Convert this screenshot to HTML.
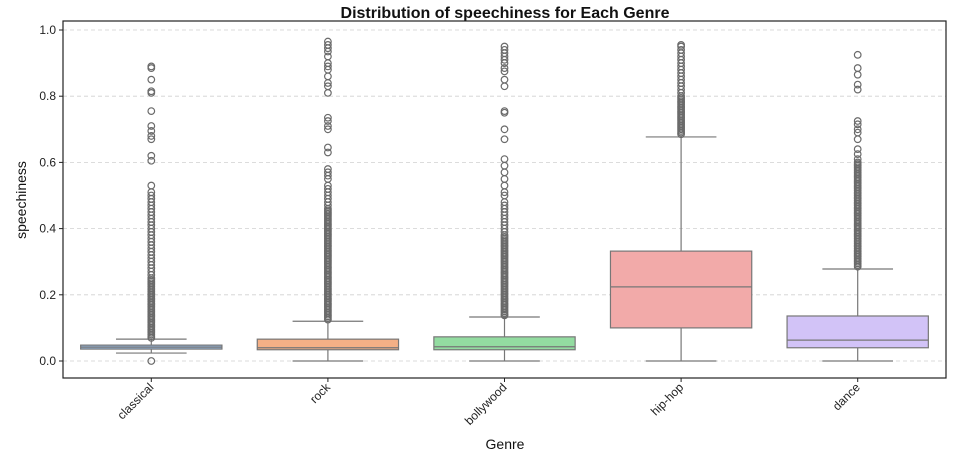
<!DOCTYPE html>
<html><head><meta charset="utf-8"><style>
body{margin:0;background:#fff;font-family:"Liberation Sans",sans-serif}
</style></head><body>
<svg id="chart" width="959" height="459" xmlns="http://www.w3.org/2000/svg">
<text x="505" y="18" text-anchor="middle" font-size="16" font-weight="bold" fill="#111">Distribution of speechiness for Each Genre</text>
<text transform="translate(26,200) rotate(-90)" text-anchor="middle" font-size="14" fill="#111">speechiness</text>
<text x="505" y="449" text-anchor="middle" font-size="14" fill="#111">Genre</text>
<g id="grid"></g><g id="marks"></g><g id="axes"></g>
</svg>
<script>
const categories=["classical","rock","bollywood","hip-hop","dance"];
const q1=[0.036,0.034,0.034,0.100,0.040];
const medians=[0.042,0.040,0.043,0.224,0.063];
const q3=[0.048,0.066,0.073,0.332,0.136];
const whiskLo=[0.024,0.0,0.0,0.0,0.0];
const whiskHi=[0.066,0.120,0.133,0.677,0.278];
const outClassical=[0,0.07,0.075,0.08,0.085,0.09,0.095,0.10,0.105,0.11,0.115,0.12,0.125,0.13,0.135,0.14,0.145,0.15,0.155,0.16,0.165,0.17,0.175,0.18,0.185,0.19,0.195,0.20,0.205,0.21,0.215,0.22,0.225,0.23,0.235,0.24,0.245,0.25,0.26,0.27,0.28,0.29,0.30,0.31,0.32,0.33,0.34,0.35,0.36,0.37,0.38,0.39,0.40,0.41,0.42,0.43,0.44,0.45,0.46,0.47,0.48,0.49,0.50,0.51,0.53,0.605,0.62,0.67,0.68,0.695,0.71,0.755,0.81,0.815,0.85,0.885,0.89];
const outRock=[0.125,0.13,0.135,0.14,0.145,0.15,0.155,0.16,0.165,0.17,0.175,0.18,0.185,0.19,0.195,0.20,0.205,0.21,0.215,0.22,0.225,0.23,0.235,0.24,0.245,0.25,0.255,0.26,0.265,0.27,0.275,0.28,0.285,0.29,0.295,0.30,0.305,0.31,0.315,0.32,0.325,0.33,0.335,0.34,0.345,0.35,0.355,0.36,0.365,0.37,0.375,0.38,0.385,0.39,0.395,0.40,0.405,0.41,0.415,0.42,0.425,0.43,0.435,0.44,0.445,0.45,0.455,0.46,0.47,0.48,0.49,0.50,0.51,0.52,0.53,0.55,0.56,0.57,0.58,0.63,0.645,0.70,0.71,0.725,0.735,0.81,0.83,0.84,0.86,0.88,0.89,0.90,0.92,0.935,0.945,0.955,0.965];
const outBollywood=[0.138,0.14,0.145,0.15,0.155,0.16,0.165,0.17,0.175,0.18,0.185,0.19,0.195,0.20,0.205,0.21,0.215,0.22,0.225,0.23,0.235,0.24,0.245,0.25,0.255,0.26,0.265,0.27,0.275,0.28,0.285,0.29,0.295,0.30,0.305,0.31,0.315,0.32,0.325,0.33,0.335,0.34,0.345,0.35,0.355,0.36,0.365,0.37,0.375,0.38,0.39,0.40,0.41,0.42,0.43,0.44,0.45,0.46,0.47,0.48,0.50,0.51,0.53,0.55,0.57,0.59,0.61,0.67,0.70,0.75,0.755,0.83,0.85,0.875,0.885,0.90,0.91,0.92,0.93,0.94,0.95];
const outHiphop=[0.685,0.69,0.695,0.70,0.705,0.71,0.715,0.72,0.725,0.73,0.735,0.74,0.745,0.75,0.755,0.76,0.765,0.77,0.775,0.78,0.785,0.79,0.795,0.80,0.81,0.82,0.83,0.84,0.85,0.86,0.87,0.88,0.89,0.90,0.91,0.92,0.93,0.94,0.95,0.955];
const outDance=[0.285,0.29,0.295,0.30,0.305,0.31,0.315,0.32,0.325,0.33,0.335,0.34,0.345,0.35,0.355,0.36,0.365,0.37,0.375,0.38,0.385,0.39,0.395,0.40,0.405,0.41,0.415,0.42,0.425,0.43,0.435,0.44,0.445,0.45,0.455,0.46,0.465,0.47,0.475,0.48,0.485,0.49,0.495,0.50,0.505,0.51,0.515,0.52,0.525,0.53,0.535,0.54,0.545,0.55,0.555,0.56,0.565,0.57,0.575,0.58,0.585,0.59,0.595,0.60,0.61,0.625,0.64,0.67,0.69,0.70,0.715,0.725,0.82,0.835,0.865,0.885,0.925];
const outliers=[outClassical,outRock,outBollywood,outHiphop,outDance];
const yTicks=[0,0.2,0.4,0.6,0.8,1.0];
const yTickLabels=["0.0","0.2","0.4","0.6","0.8","1.0"];
const colors=["#93b5dc","#f4b086","#93dca1","#f2aaa9","#d2c3f7"];

const L=63,R=946,T=21,B=378;
const y=v=>361-v*331;
const band=(R-L)/categories.length;
const x=i=>L+band*(i+0.5);
const NS="http://www.w3.org/2000/svg";
function mk(parent,tag,attrs){const e=document.createElementNS(NS,tag);for(const k in attrs)e.setAttribute(k,attrs[k]);document.getElementById(parent).appendChild(e);return e;}

yTicks.forEach((t,i)=>{
  const g=mk("grid","line",{x1:L,x2:R,y1:y(t),y2:y(t),stroke:"#d0d0d0","stroke-dasharray":"4,3","stroke-width":0.8});
  
  
  const tk=mk("axes","line",{x1:L-4,x2:L,y1:y(t),y2:y(t),stroke:"#222"});
  
  
  const tl=mk("axes","text",{x:L-7,y:y(t)+4,"text-anchor":"end","font-size":12,fill:"#222"});
  tl.textContent=yTickLabels[i];
  
  
});
const frame=mk("axes","rect",{x:L,y:T,width:R-L,height:B-T,fill:"none",stroke:"#222","stroke-width":1.2});



categories.forEach((c,i)=>{
  const cx=x(i),w=band*0.8,cw=w/2;
  const g=mk("marks","g",{});
  
  
  const id="bx"+i;g.setAttribute("id",id);
  const st={stroke:"#777","stroke-width":1.2};
  mk(id,"line",Object.assign({x1:cx,x2:cx,y1:y(q3[i]),y2:y(whiskHi[i])},st));
  mk(id,"line",Object.assign({x1:cx,x2:cx,y1:y(q1[i]),y2:y(whiskLo[i])},st));
  mk(id,"line",Object.assign({x1:cx-cw/2,x2:cx+cw/2,y1:y(whiskHi[i]),y2:y(whiskHi[i])},st));
  mk(id,"line",Object.assign({x1:cx-cw/2,x2:cx+cw/2,y1:y(whiskLo[i]),y2:y(whiskLo[i])},st));
  mk(id,"rect",Object.assign({x:cx-w/2,y:y(q3[i]),width:w,height:Math.max(1,y(q1[i])-y(q3[i])),fill:colors[i]},st));
  mk(id,"line",Object.assign({x1:cx-w/2,x2:cx+w/2,y1:y(medians[i]),y2:y(medians[i])},st));
  outliers[i].forEach(v=>{
    const o=mk(id,"circle",{cx:cx,cy:y(v),r:3.3,fill:"none",stroke:"#6a6a6a","stroke-width":1.2});
    
    
  });
  const tk=mk("axes","line",{x1:cx,x2:cx,y1:B,y2:B+4,stroke:"#222"});
  
  
  const tl=mk("axes","text",{transform:`translate(${cx+3},${B+10}) rotate(-45)`,"text-anchor":"end","font-size":12,fill:"#222"});
  tl.textContent=c;
  
  
});
</script>
</body></html>
